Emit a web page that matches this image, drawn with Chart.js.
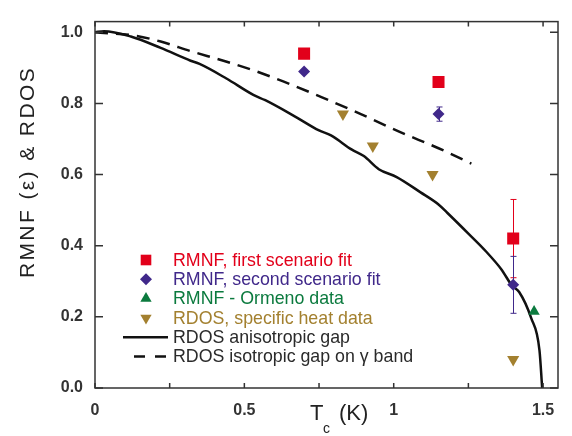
<!DOCTYPE html>
<html>
<head>
<meta charset="utf-8">
<script src="https://cdn.jsdelivr.net/npm/chart.js@4.4.1/dist/chart.umd.min.js"></script>
<style>
  html, body { margin:0; padding:0; background:#fff; }
  #wrap { width:572px; height:436px; }
</style>
</head>
<body>
<div id="wrap"><canvas id="c"></canvas></div>
<script>
// ─── Data ─────────────────────────────────────────────────────
const firstFitT   = [0.70, 1.15, 1.40];
const firstFitR   = [0.94, 0.86, 0.42];
const firstFitErr = [0,    0,    0.11];

const secondFitT   = [0.70, 1.15, 1.40];
const secondFitR   = [0.89, 0.77, 0.29];
const secondFitErr = [0,    0.02, 0.08];

const ormenoT = [1.47];
const ormenoR = [0.215];

const heatT = [0.83, 0.93, 1.13, 1.40];
const heatR = [0.77, 0.68, 0.60, 0.08];

const anisoT = [0, 0.03, 0.12, 0.22, 0.32, 0.35, 0.44, 0.53, 0.57, 0.67, 0.75, 0.79,
                0.86, 0.90, 0.95, 1.01, 1.09, 1.15, 1.18, 1.25, 1.31, 1.36, 1.396,
                1.42, 1.46, 1.488, 1.497];
const anisoR = [1.0, 1.003, 0.988, 0.956, 0.92, 0.911, 0.87, 0.824, 0.809, 0.763, 0.724, 0.71,
                0.67, 0.652, 0.615, 0.593, 0.55, 0.516, 0.492, 0.434, 0.383, 0.334, 0.288,
                0.27, 0.197, 0.106, 0.0];

const isoT = [0, 0.13, 0.22, 0.32, 0.43, 0.53, 0.63, 0.76, 0.89, 1.02, 1.15, 1.26];
const isoR = [1.0, 0.991, 0.974, 0.947, 0.92, 0.893, 0.862, 0.817, 0.77, 0.72, 0.674, 0.631];

const xTickVals   = [0, 0.25, 0.5, 0.75, 1, 1.25, 1.5];
const xTickLabels = ['0', '', '0.5', '', '1', '', '1.5'];
const yTickVals   = [0, 0.2, 0.4, 0.6, 0.8, 1.0];

const labels = [
  'RMNF, first scenario fit',
  'RMNF, second scenario fit',
  'RMNF - Ormeno data',
  'RDOS, specific heat data',
  'RDOS anisotropic gap',
  'RDOS isotropic gap on \u03b3 band',
];

const RED = '#e2001a', PURPLE = '#40288a', GREEN = '#0b7a3e', BROWN = '#a3802f', INK = '#111';
const FONT = "'Liberation Sans', Arial, sans-serif";

const pts = (xs, ys) => xs.map((x, i) => ({ x, y: ys[i] }));

// ── Plugins ───────────────────────────────────────────────────

const errorBars = {
  id: 'errorBars',
  beforeDatasetsDraw(chart) {
    const { ctx, scales: { x, y } } = chart;
    chart.data.datasets.forEach(ds => {
      if (!ds.errs) return;
      ctx.save();
      ctx.strokeStyle = ds.backgroundColor;
      ctx.lineWidth = 1;
      ds.data.forEach((p, i) => {
        const e = ds.errs[i];
        if (!e) return;
        const px = Math.round(x.getPixelForValue(p.x)) + 0.5;
        const y1 = y.getPixelForValue(p.y + e), y2 = y.getPixelForValue(p.y - e);
        ctx.beginPath();
        ctx.moveTo(px, y1); ctx.lineTo(px, y2);
        ctx.moveTo(px - 3, y1); ctx.lineTo(px + 3, y1);
        ctx.moveTo(px - 3, y2); ctx.lineTo(px + 3, y2);
        ctx.stroke();
      });
      ctx.restore();
    });
  },
};

const frame = {
  id: 'frame',
  afterDraw(chart) {
    const { ctx, chartArea: a, scales: { x, y } } = chart;
    ctx.save();
    ctx.strokeStyle = '#333';
    ctx.lineWidth = 1.5;
    ctx.strokeRect(a.left, a.top, a.right - a.left, a.bottom - a.top);
    ctx.beginPath();
    xTickVals.forEach(v => {
      const px = x.getPixelForValue(v);
      ctx.moveTo(px, a.bottom); ctx.lineTo(px, a.bottom - 5);
      ctx.moveTo(px, a.top);    ctx.lineTo(px, a.top + 5);
    });
    yTickVals.forEach(v => {
      const py = y.getPixelForValue(v);
      ctx.moveTo(a.left, py);  ctx.lineTo(a.left + 8, py);
      ctx.moveTo(a.right, py); ctx.lineTo(a.right - 8, py);
    });
    ctx.stroke();

    // axis titles
    ctx.fillStyle = '#222';
    ctx.textBaseline = 'alphabetic';
    ctx.textAlign = 'left';
    ctx.font = '22px ' + FONT;
    ctx.fillText('T', 310, 420);
    ctx.font = '14px ' + FONT;
    ctx.fillText('c', 323, 433);
    ctx.font = '22px ' + FONT;
    ctx.fillText('(K)', 339, 420);

    ctx.translate(34, 172);
    ctx.rotate(-Math.PI / 2);
    ctx.textAlign = 'center';
    ctx.font = '21px ' + FONT;
    ctx.letterSpacing = '2.4px';
    ctx.fillText('RMNF (\u03b5) & RDOS', 0, 0);
    ctx.restore();
  },
};

const insideLegend = {
  id: 'insideLegend',
  afterDraw(chart) {
    const ctx = chart.ctx;
    const top = 260, step = 19.3, markX = 146, textX = 173;
    ctx.save();
    ctx.font = '17.8px ' + FONT;
    ctx.textBaseline = 'middle';
    ctx.textAlign = 'left';
    chart.data.datasets.forEach((ds, i) => {
      const yy = top + i * step;
      if (ds.showLine) {
        const dashed = ds.borderDash && ds.borderDash.length;
        ctx.strokeStyle = ds.borderColor;
        ctx.lineWidth = 2.5;
        ctx.setLineDash(dashed ? [11, 10] : []);
        ctx.beginPath();
        ctx.moveTo(dashed ? 134 : 123, yy);
        ctx.lineTo(168, yy);
        ctx.stroke();
        ctx.setLineDash([]);
        ctx.fillStyle = '#2a2a2a';
      } else {
        ctx.fillStyle = ds.backgroundColor;
        Chart.helpers.drawPoint(ctx, {
          pointStyle: ds.pointStyle,
          rotation: ds.rotation || 0,
          radius: ds.legendRadius,
          borderWidth: 0,
        }, markX, yy);
      }
      ctx.fillText(ds.label, textX, yy + 1);
    });
    ctx.restore();
  },
};

// ── Chart ─────────────────────────────────────────────────────

new Chart(document.getElementById('c'), {
  type: 'scatter',
  data: {
    datasets: [
      { label: labels[0], data: pts(firstFitT, firstFitR), errs: firstFitErr,
        pointStyle: 'rect', pointRadius: 8.5, legendRadius: 7.5,
        backgroundColor: RED, borderColor: RED, borderWidth: 0 },
      { label: labels[1], data: pts(secondFitT, secondFitR), errs: secondFitErr,
        pointStyle: 'rectRot', pointRadius: 6, legendRadius: 6,
        backgroundColor: PURPLE, borderColor: PURPLE, borderWidth: 0 },
      { label: labels[2], data: pts(ormenoT, ormenoR),
        pointStyle: 'triangle', pointRadius: 6.5, legendRadius: 6.5,
        backgroundColor: GREEN, borderColor: GREEN, borderWidth: 0 },
      { label: labels[3], data: pts(heatT, heatR),
        pointStyle: 'triangle', rotation: 180, pointRotation: 180, pointRadius: 7, legendRadius: 6.5,
        backgroundColor: BROWN, borderColor: BROWN, borderWidth: 0 },
      { label: labels[4], data: pts(anisoT, anisoR), showLine: true,
        borderColor: INK, backgroundColor: INK, borderWidth: 2.5, pointRadius: 0,
        cubicInterpolationMode: 'monotone' },
      { label: labels[5], data: pts(isoT, isoR), showLine: true, borderDash: [13, 8],
        borderColor: INK, backgroundColor: INK, borderWidth: 2.5, pointRadius: 0,
        cubicInterpolationMode: 'monotone' },
    ],
  },
  options: {
    responsive: true,
    maintainAspectRatio: false,
    animation: false,
    events: [],
    layout: { padding: { top: 8, right: 14, left: 0, bottom: 0 } },
    plugins: { legend: { display: false }, tooltip: { enabled: false } },
    scales: {
      x: {
        type: 'linear', min: 0, max: 1.55,
        grid: { display: false, drawTicks: false },
        border: { display: false },
        afterBuildTicks: s => { s.ticks = xTickVals.map(v => ({ value: v })); },
        afterFit: s => { s.height = 48; },
        ticks: {
          padding: 13, color: '#333', maxRotation: 0, autoSkip: false,
          font: { family: FONT, size: 16, weight: 'bold' },
          callback: v => xTickLabels[xTickVals.indexOf(v)],
        },
      },
      y: {
        type: 'linear', min: 0, max: 1.03,
        grid: { display: false, drawTicks: false },
        border: { display: false },
        afterBuildTicks: s => { s.ticks = yTickVals.map(v => ({ value: v })); },
        afterFit: s => { s.width = 95; },
        ticks: {
          padding: 12, color: '#333', autoSkip: false,
          font: { family: FONT, size: 16, weight: 'bold' },
          callback: v => v.toFixed(1),
        },
      },
    },
  },
  plugins: [errorBars, frame, insideLegend],
});
</script>
</body>
</html>
